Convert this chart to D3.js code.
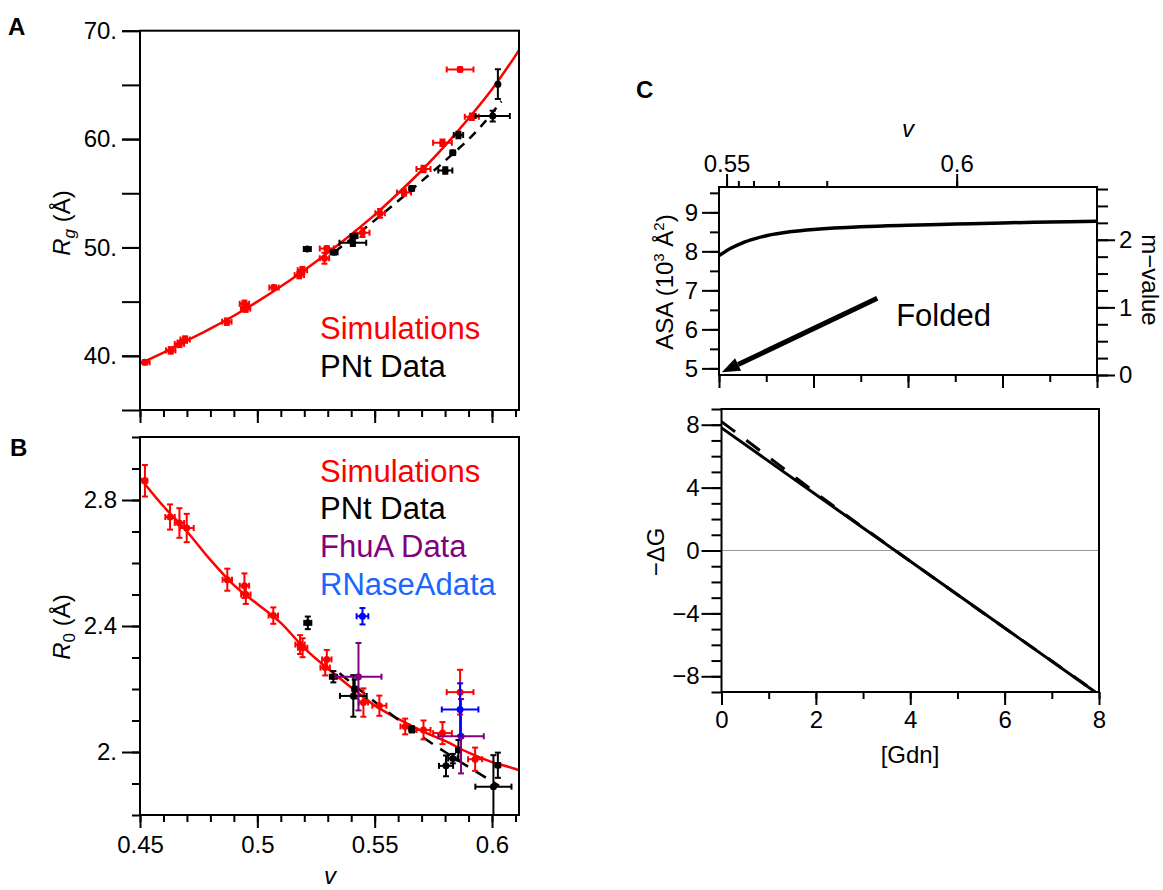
<!DOCTYPE html>
<html><head><meta charset="utf-8">
<script src="https://cdn.jsdelivr.net/npm/d3@7"></script>
<style>
body{margin:0;background:#fff}
svg{display:block}
text{font-family:"Liberation Sans",Arial,Helvetica,sans-serif}
</style>
</head><body>
<svg id="chart" width="1163" height="890"></svg>
<script>
// ---------------- DATA ----------------
// Panel A: Rg vs v
const aSimV    = [0.4521,0.4631,0.4668,0.4692,0.4870,0.4945,0.4950,0.5071,0.5179,0.5192,0.5286,0.5296,0.5448,0.5523,0.5625,0.5708,0.5789,0.5864,0.5914];
const aSimRg   = [39.4,40.5,41.1,41.5,43.15,44.8,44.35,46.3,47.45,47.9,49.0,49.9,51.36,53.15,55.08,57.23,59.66,66.43,62.06];
const aSimXErr = [0.002,0.002,0.002,0.002,0.002,0.002,0.002,0.002,0.002,0.002,0.002,0.003,0.003,0.002,0.003,0.003,0.004,0.0057,0.003];
const aSimYErr = [0.2,0.3,0.3,0.3,0.3,0.3,0.3,0.2,0.3,0.3,0.5,0.2,0.4,0.4,0.3,0.3,0.3,0.2,0.3];

const aPntV    = [0.5213,0.5327,0.5407,0.5412,0.5658,0.5801,0.5833,0.5857,0.6003,0.6025];
const aPntRg   = [49.85,49.55,50.43,51.05,55.45,57.11,58.74,60.37,62.12,65.07];
const aPntXErr = [0.0015,0.0015,0.0057,0.0015,0.001,0.003,0.001,0.002,0.0073,0.0005];
const aPntYErr = [0.15,0.2,0.3,0.2,0.2,0.3,0.2,0.3,0.5,1.37];

const aFitV  = [0.45,0.46,0.47,0.48,0.49,0.50,0.51,0.52,0.53,0.54,0.55,0.56,0.57,0.58,0.59,0.60,0.61,0.6115];
const aFitRg = [39.3,40.3,41.4,42.5,43.7,45.0,46.4,47.9,49.5,51.2,53.0,55.0,57.1,59.4,61.9,64.6,67.7,68.2];
const aDashV  = [0.533,0.55,0.565,0.58,0.595,0.604];
const aDashRg = [49.6,52.5,55.2,58.0,61.1,63.5];

// Panel B: R0 vs v
const bSimV    = [0.4521,0.4628,0.4668,0.4699,0.4872,0.4945,0.4951,0.5068,0.5182,0.5193,0.5296,0.5289,0.5452,0.5520,0.5630,0.5708,0.5789,0.5864,0.5928];
const bSimR0   = [2.861,2.746,2.727,2.711,2.547,2.528,2.500,2.433,2.341,2.331,2.294,2.268,2.157,2.147,2.081,2.070,2.060,2.190,1.977];
const bSimXErr = [0.001,0.002,0.002,0.003,0.002,0.002,0.002,0.002,0.002,0.002,0.002,0.002,0.002,0.003,0.002,0.003,0.004,0.0057,0.003];
const bSimYErr = [0.05,0.04,0.047,0.045,0.035,0.039,0.03,0.026,0.03,0.03,0.03,0.025,0.045,0.032,0.025,0.03,0.035,0.071,0.037];

const bPntV    = [0.5215,0.5324,0.5409,0.5415,0.5658,0.5804,0.5833,0.5857,0.6006,0.6025];
const bPntR0   = [2.41,2.239,2.178,2.20,2.072,1.956,1.979,2.006,1.890,1.958];
const bPntXErr = [0.0015,0.0015,0.0057,0.001,0.001,0.003,0.002,0.001,0.0077,0.001];
const bPntYErr = [0.02,0.018,0.066,0.03,0.01,0.033,0.015,0.032,0.1,0.04];

const bFhuV = [0.5431,0.5868], bFhuR0 = [2.239,2.05], bFhuXErr = [0.0098,0.0097], bFhuYErr = [0.107,0.118];
const bRnaV = [0.5448,0.5864], bRnaR0 = [2.431,2.135], bRnaXErr = [0.0025,0.0078], bRnaYErr = [0.026,0.083];

const bFitV  = [0.45,0.46,0.47,0.48,0.49,0.50,0.51,0.52,0.53,0.54,0.55,0.56,0.57,0.58,0.59,0.60,0.61,0.6115];
const bFitR0 = [2.87,2.78,2.70,2.61,2.53,2.47,2.41,2.33,2.265,2.205,2.148,2.105,2.067,2.035,1.998,1.968,1.946,1.942];
const bDashV  = [0.535,0.566,0.58,0.603];
const bDashR0 = [2.25,2.07,2.0,1.893];

// Panel C top: ASA vs [Gdn]
const cGdn = [0,0.25,0.5,0.75,1,1.5,2,3,4,5,6,7,8];
const cASA = [7.89,8.08,8.22,8.32,8.40,8.50,8.56,8.63,8.67,8.70,8.73,8.75,8.77];
const cVTicks   = [0.55,0.56,0.57,0.58,0.59,0.6];     // v on top axis
const cVTickGdn = [0.16,0.41,0.73,1.26,2.28,5.03];    // [Gdn] where that v is reached
const cVLabels  = ["0.55","","","","","0.6"];
const foldedArrowGdn = [3.35,0.06], foldedArrowASA = [6.8,4.9];

// Panel C bottom: -ΔG vs [Gdn]
const dGdnSolid = [0,7.92], dGSolid = [7.8,-9.0];
const dGdnDash  = [0,0.5,1,1.5,2,3,4,5,6,7,8];
const dGDash    = [8.2,7.07,5.94,4.80,3.66,1.47,-0.68,-2.81,-4.93,-7.03,-9.15];

// Tick labels
const abMajorX = [0.45,0.5,0.55,0.6], abMajorXLabels = ["0.45","0.5","0.55","0.6"];
const aMajorY = [40,50,60,70], aMajorYLabels = ["40.","50.","60.","70."];
const bMajorY = [2.0,2.4,2.8], bMajorYLabels = ["2.","2.4","2.8"];
const cAsaMajor = [5,6,7,8,9];
const cMMajor = [0,1,2];
const cGdnMajor = [0,2,4,6,8];
const cDGMajor = [-8,-4,0,4,8], cDGLabels = ["\u22128","\u22124","0","4","8"];

// ---------------- DRAWING ----------------
const svg = d3.select("#chart");
const RED = "#ff0000", PUR = "#800080", BLU = "#0000ff";
const FS = 24;

const xV = d3.scaleLinear([0.45, 0.6115], [140, 519]);
const yA = d3.scaleLinear([35, 70], [410, 30.7]);
const yB = d3.scaleLinear([1.8, 3.0], [815, 437]);
const xG1 = d3.scaleLinear([0, 8], [719, 1097]);
const yAsa = d3.scaleLinear([4.83, 9.65], [375, 187]);
const yM = d3.scaleLinear([0, 2.78], [375, 187]);
const xG2 = d3.scaleLinear([0, 8], [721.5, 1099]);
const yDG = d3.scaleLinear([-9, 9], [692, 409]);

function clip(id, sx, sy) {
  const [x0, x1] = sx.range(), [y0, y1] = sy.range();
  svg.append("clipPath").attr("id", id).append("rect")
    .attr("x", Math.min(x0, x1)).attr("y", Math.min(y0, y1))
    .attr("width", Math.abs(x1 - x0)).attr("height", Math.abs(y1 - y0));
  return svg.append("g").attr("clip-path", `url(#${id})`);
}
function frame(sx, sy) {
  const [x0, x1] = sx.range(), [y0, y1] = sy.range();
  svg.append("rect").attr("x", Math.min(x0, x1)).attr("y", Math.min(y0, y1))
    .attr("width", Math.abs(x1 - x0)).attr("height", Math.abs(y1 - y0))
    .attr("fill", "none").attr("stroke", "#000").attr("stroke-width", 2);
}
function axis(fn, scale, values, size, tx, ty, labels, pad) {
  const ax = fn(scale).tickValues(values).tickSize(size).tickSizeOuter(0)
    .tickPadding(pad == null ? 4 : pad)
    .tickFormat(labels ? (d, i) => labels[i] : "");
  const g = svg.append("g").attr("transform", `translate(${tx},${ty})`).call(ax);
  g.select(".domain").remove();
  g.selectAll(".tick line").attr("stroke", "#000").attr("stroke-width", 2);
  g.selectAll(".tick text").attr("font-size", FS).attr("fill", "#000")
    .attr("font-family", '"Liberation Sans",Arial,sans-serif');
  return g;
}
function errSeries(g, xs, ys, xe, ye, sx, sy, color, r, cap, sw) {
  const idx = d3.range(xs.length);
  const gg = g.append("g").attr("stroke", color).attr("stroke-width", sw).attr("fill", color);
  const e = gg.selectAll("g").data(idx).join("g");
  e.append("line").attr("x1", i => sx(xs[i] - xe[i])).attr("x2", i => sx(xs[i] + xe[i]))
    .attr("y1", i => sy(ys[i])).attr("y2", i => sy(ys[i]));
  e.append("line").attr("x1", i => sx(xs[i] - xe[i])).attr("x2", i => sx(xs[i] - xe[i]))
    .attr("y1", i => sy(ys[i]) - cap).attr("y2", i => sy(ys[i]) + cap);
  e.append("line").attr("x1", i => sx(xs[i] + xe[i])).attr("x2", i => sx(xs[i] + xe[i]))
    .attr("y1", i => sy(ys[i]) - cap).attr("y2", i => sy(ys[i]) + cap);
  e.append("line").attr("x1", i => sx(xs[i])).attr("x2", i => sx(xs[i]))
    .attr("y1", i => sy(ys[i] - ye[i])).attr("y2", i => sy(ys[i] + ye[i]));
  e.append("line").attr("x1", i => sx(xs[i]) - cap).attr("x2", i => sx(xs[i]) + cap)
    .attr("y1", i => sy(ys[i] - ye[i])).attr("y2", i => sy(ys[i] - ye[i]));
  e.append("line").attr("x1", i => sx(xs[i]) - cap).attr("x2", i => sx(xs[i]) + cap)
    .attr("y1", i => sy(ys[i] + ye[i])).attr("y2", i => sy(ys[i] + ye[i]));
  e.append("circle").attr("cx", i => sx(xs[i])).attr("cy", i => sy(ys[i])).attr("r", r).attr("stroke", "none");
}
function curve(g, xs, ys, sx, sy, color, w, dash, cv) {
  const line = d3.line().x(i => sx(xs[i])).y(i => sy(ys[i])).curve(cv || d3.curveMonotoneX);
  g.append("path").attr("d", line(d3.range(xs.length))).attr("fill", "none")
    .attr("stroke", color).attr("stroke-width", w).attr("stroke-dasharray", dash || null);
}
function label(x, y, txt, opts) {
  const t = svg.append("text").attr("x", x).attr("y", y).text(txt)
    .attr("font-size", opts.size || FS).attr("fill", opts.color || "#000")
    .attr("text-anchor", opts.anchor || "start");
  if (opts.weight) t.attr("font-weight", opts.weight);
  if (opts.italic) t.attr("font-style", "italic");
  return t;
}

const minorX = d3.range(45, 62).map(d => d / 100);

// ---- Panel A ----
const gA = clip("clipA", xV, yA);
curve(gA, aFitV, aFitRg, xV, yA, RED, 2.5);
curve(gA, aDashV, aDashRg, xV, yA, "#000", 2.5, "9,7");
errSeries(gA, aSimV, aSimRg, aSimXErr, aSimYErr, xV, yA, RED, 3.5, 3, 2);
errSeries(gA, aPntV, aPntRg, aPntXErr, aPntYErr, xV, yA, "#000", 3.5, 3, 2);
frame(xV, yA);
axis(d3.axisLeft, yA, d3.range(35, 71, 5), 18, 140, 0, null);
axis(d3.axisLeft, yA, aMajorY, 18, 140, 0, aMajorYLabels, 5);
axis(d3.axisBottom, xV, minorX, 7, 0, 410, null);
axis(d3.axisBottom, xV, abMajorX, 13, 0, 410, null);
label(320, 339, "Simulations", {size: 31, color: RED});
label(320, 377, "PNt Data", {size: 31});
const tA = svg.append("text").attr("transform", "translate(70,223) rotate(-90)")
  .attr("text-anchor", "middle").attr("font-size", FS);
tA.append("tspan").attr("font-style", "italic").text("R");
tA.append("tspan").attr("font-style", "italic").attr("font-size", 17).attr("dy", 5).text("g");
tA.append("tspan").attr("dy", -5).text(" (Å)");
label(8, 35, "A", {size: 24, weight: "bold"});

// ---- Panel B ----
const gB = clip("clipB", xV, yB);
curve(gB, bFitV, bFitR0, xV, yB, RED, 2.5);
curve(gB, bDashV, bDashR0, xV, yB, "#000", 2.5, "12,9");
errSeries(gB, bSimV, bSimR0, bSimXErr, bSimYErr, xV, yB, RED, 3.5, 3, 2);
errSeries(gB, bPntV, bPntR0, bPntXErr, bPntYErr, xV, yB, "#000", 3.5, 3, 2);
errSeries(gB, bFhuV, bFhuR0, bFhuXErr, bFhuYErr, xV, yB, PUR, 3.5, 3, 2);
errSeries(gB, bRnaV, bRnaR0, bRnaXErr, bRnaYErr, xV, yB, BLU, 3.5, 3, 2);
frame(xV, yB);
axis(d3.axisLeft, yB, d3.range(18, 31).map(d => d / 10), 8, 140, 0, null);
axis(d3.axisLeft, yB, bMajorY, 18, 140, 0, bMajorYLabels, 5);
axis(d3.axisBottom, xV, minorX, 7, 0, 815, null);
axis(d3.axisBottom, xV, abMajorX, 13, 0, 815, abMajorXLabels, 8);
label(320, 482, "Simulations", {size: 31, color: RED});
label(320, 519, "PNt Data", {size: 31});
label(320, 557, "FhuA Data", {size: 31, color: PUR});
label(320, 595, "RNaseAdata", {size: 31, color: "#1a66ff"});
const tB = svg.append("text").attr("transform", "translate(70,627) rotate(-90)")
  .attr("text-anchor", "middle").attr("font-size", FS);
tB.append("tspan").attr("font-style", "italic").text("R");
tB.append("tspan").attr("font-size", 17).attr("dy", 5).text("0");
tB.append("tspan").attr("dy", -5).text(" (Å)");
label(330, 884, "v", {italic: true, anchor: "middle"});
label(10, 456, "B", {size: 24, weight: "bold"});

// ---- Panel C top ----
const gC = clip("clipC", xG1, yAsa);
curve(gC, cGdn, cASA, xG1, yAsa, "#000", 3.5, null, d3.curveCatmullRom);
frame(xG1, yAsa);
axis(d3.axisLeft, yAsa, d3.range(5, 10, 0.5), 9, 719, 0, null);
axis(d3.axisLeft, yAsa, cAsaMajor, 17, 719, 0, cAsaMajor.map(String), 4);
axis(d3.axisRight, yM, d3.range(0, 2.8, 0.25), 11, 1097, 0, null);
axis(d3.axisRight, yM, cMMajor, 18, 1097, 0, cMMajor.map(String), 4);
axis(d3.axisBottom, xG1, d3.range(0, 9, 1), 7, 0, 375, null);
axis(d3.axisBottom, xG1, cGdnMajor, 13, 0, 375, null);
const xVtop = d3.scaleLinear(cVTicks, cVTickGdn.map(xG1));
axis(d3.axisTop, xVtop, cVTicks, 6, 0, 187, null);
axis(d3.axisTop, xVtop, [cVTicks[0], cVTicks[5]], 13, 0, 187, [cVLabels[0], cVLabels[5]], 2);
label(908, 137, "v", {italic: true, anchor: "middle"});
// Folded arrow
{
  const x1 = xG1(foldedArrowGdn[0]), y1 = yAsa(foldedArrowASA[0]);
  const x2 = xG1(foldedArrowGdn[1]), y2 = yAsa(foldedArrowASA[1]);
  const ang = Math.atan2(y2 - y1, x2 - x1), L = 18, W = 7;
  const bx = x2 - L * Math.cos(ang), by = y2 - L * Math.sin(ang);
  svg.append("line").attr("x1", x1).attr("y1", y1).attr("x2", bx).attr("y2", by)
    .attr("stroke", "#000").attr("stroke-width", 5);
  svg.append("path").attr("d", `M${x2},${y2}L${bx - W * Math.sin(ang)},${by + W * Math.cos(ang)}L${bx + W * Math.sin(ang)},${by - W * Math.cos(ang)}Z`)
    .attr("fill", "#000");
}
label(xG1(3.75), yAsa(6.08), "Folded", {size: 31});
const tC = svg.append("text").attr("transform", "translate(673,282) rotate(-90)")
  .attr("text-anchor", "middle").attr("font-size", FS);
tC.append("tspan").text("ASA (10");
tC.append("tspan").attr("font-size", 15).attr("dy", -9).text("3");
tC.append("tspan").attr("dy", 9).text(" Å");
tC.append("tspan").attr("font-size", 15).attr("dy", -9).text("2");
tC.append("tspan").attr("dy", 9).text(")");
svg.append("text").attr("transform", "translate(1142,280) rotate(90)")
  .attr("text-anchor", "middle").attr("font-size", FS).text("m\u2212value");
label(636, 98, "C", {size: 24, weight: "bold"});

// ---- Panel C bottom ----
const gD = clip("clipD", xG2, yDG);
gD.append("line").attr("x1", xG2(0)).attr("x2", xG2(8)).attr("y1", yDG(0)).attr("y2", yDG(0))
  .attr("stroke", "#999").attr("stroke-width", 1.2);
curve(gD, dGdnSolid, dGSolid, xG2, yDG, "#000", 3, null, d3.curveLinear);
curve(gD, dGdnDash, dGDash, xG2, yDG, "#000", 3, "17,14", d3.curveMonotoneX);
frame(xG2, yDG);
axis(d3.axisLeft, yDG, d3.range(-9, 10, 1), 10, 721.5, 0, null);
axis(d3.axisLeft, yDG, cDGMajor, 20, 721.5, 0, cDGLabels, 2);
axis(d3.axisBottom, xG2, d3.range(0, 9, 1), 7, 0, 692, null);
axis(d3.axisBottom, xG2, cGdnMajor, 13, 0, 692, cGdnMajor.map(String), 6);
label(910, 763, "[Gdn]", {anchor: "middle"});
svg.append("text").attr("transform", "translate(664,552) rotate(-90)")
  .attr("text-anchor", "middle").attr("font-size", FS).text("\u2212\u0394G");
</script>
</body></html>
